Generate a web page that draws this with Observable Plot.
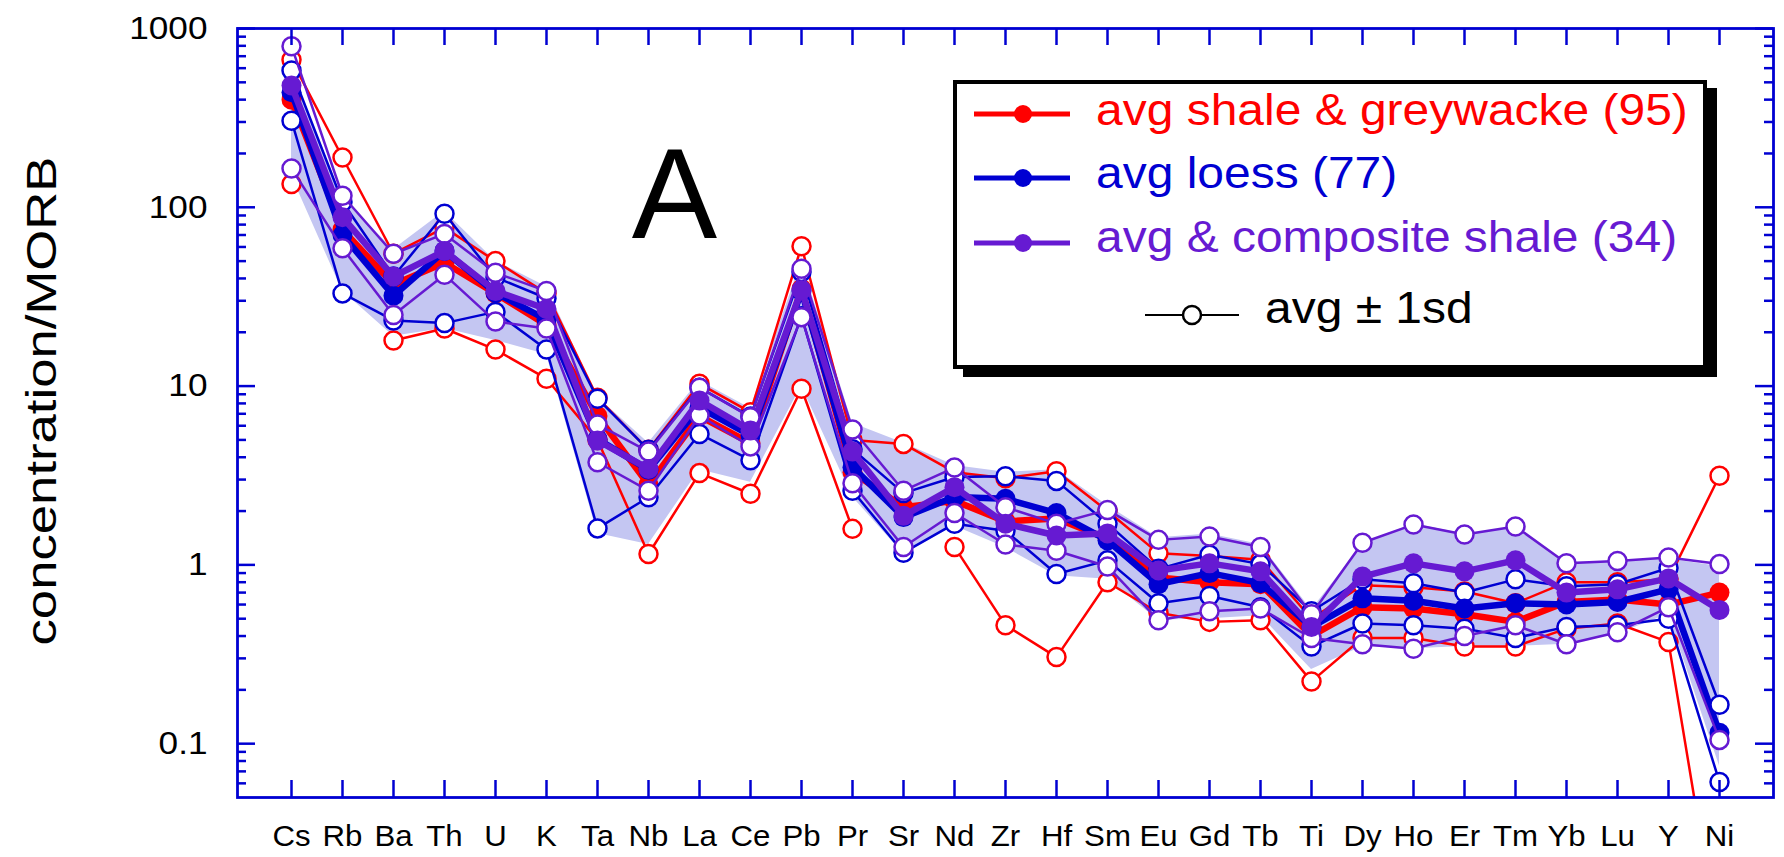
<!DOCTYPE html>
<html>
<head>
<meta charset="utf-8">
<script src="https://cdn.jsdelivr.net/npm/d3@7"></script>
<script src="https://cdn.jsdelivr.net/npm/@observablehq/plot@0.6"></script>
<style>
  html,body{margin:0;padding:0;background:#fff;}
  #wrap{position:relative;width:1784px;height:857px;overflow:hidden;background:#fff;}
  #legend{position:absolute;left:953px;top:80px;width:754px;height:289px;box-sizing:border-box;border:4px solid #000;background:#fff;box-shadow:10px 8px 0 0 #000;}
  #legend svg{display:block;}
</style>
</head>
<body>
<div id="wrap"><div id="chart"></div><div id="legend"></div></div>
<script>
// ---- data (values normalised to MORB) ----
const elements = ["Cs","Rb","Ba","Th","U","K","Ta","Nb","La","Ce","Pb","Pr","Sr","Nd","Zr","Hf","Sm","Eu","Gd","Tb","Ti","Dy","Ho","Er","Tm","Yb","Lu","Y","Ni"];

// avg shale & greywacke (95)
const shaleAvg = [400, 75, 37, 49, 33, 22, 6.8, 2.8, 6.8, 4.8, 35, 3.3, 2.1, 2.28, 1.75, 1.82, 1.4, 0.85, 0.8, 0.78, 0.4, 0.58, 0.57, 0.53, 0.48, 0.62, 0.64, 0.6, 0.7];
const shaleHi  = [668, 190, 55, 77, 50, 33, 8.6, 4.4, 10.3, 7.15, 60.6, 5.0, 4.75, 3.3, 3.05, 3.34, 2.0, 1.16, 1.12, 1.07, 0.5, 0.77, 0.75, 0.71, 0.61, 0.8, 0.8, 0.83, 3.15];
const shaleLo  = [135, NaN, 18, 21, 16, 11, 5.0, 1.15, 3.26, 2.5, 9.66, 1.59, NaN, 1.26, 0.46, 0.305, 0.8, 0.54, 0.48, 0.49, 0.223, 0.39, 0.39, 0.35, 0.35, 0.44, 0.47, 0.37, 0.007];

// avg loess (77)
const loessAvg = [440, 70, 32, 57, 33.3, 23.5, 5.05, 3.4, 7.6, 5.3, 34, 3.52, 1.85, 2.4, 2.34, 1.95, 1.37, 0.78, 0.9, 0.79, 0.45, 0.65, 0.63, 0.57, 0.61, 0.6, 0.62, 0.73, 0.115];
const loessHi  = [582, 107, 41, 92, 40.6, 31, 8.5, 4.4, 9.8, 6.75, 43.4, 4.44, 2.52, 3.1, 3.13, 2.95, 1.7, 0.95, 1.14, 1.01, 0.55, 0.83, 0.79, 0.7, 0.83, 0.76, 0.78, 0.96, 0.165];
const loessLo  = [305, 33, 23.3, 22.5, 26, 16, 1.6, 2.39, 5.4, 3.85, 24.6, 2.6, 1.17, 1.7, 1.55, 0.89, 1.06, 0.61, 0.67, 0.58, 0.35, 0.47, 0.46, 0.44, 0.39, 0.45, 0.46, 0.5, 0.061];

// avg & composite shale (34)
const compAvg = [480, 88, 41, 57, 34, 27, 4.97, 3.44, 8.3, 5.65, 34.5, 4.3, 1.88, 2.72, 1.7, 1.46, 1.5, 0.93, 1.02, 0.92, 0.45, 0.86, 1.02, 0.92, 1.06, 0.70, 0.73, 0.84, 0.56];
const compHi  = [796, 116, 55, 71, 43, 34, 6.1, 4.3, 9.8, 6.7, 45.3, 5.72, 2.6, 3.5, 2.1, 1.7, 2.03, 1.38, 1.44, 1.26, 0.53, 1.33, 1.68, 1.48, 1.64, 1.02, 1.05, 1.1, 1.01];
const compLo  = [165, 59, 25, 42, 23, 21, 3.75, 2.6, 6.85, 4.6, 24.3, 2.86, 1.26, 1.95, 1.3, 1.2, 0.98, 0.49, 0.55, 0.57, 0.39, 0.36, 0.34, 0.40, 0.46, 0.36, 0.42, 0.58, 0.105];

// shaded envelope
const bandHi = [590, 112, 58, 95, 50, 36, 8.7, 4.8, 10.7, 7.5, 50, 6.2, 4.8, 3.6, 3.3, 3.4, 2.15, 1.42, 1.49, 1.3, 0.56, 1.3, 1.7, 1.49, 1.62, 1.03, 1.05, 1.08, 0.98];
const bandLo = [150, 34, 19, 21, 18, 15, 1.5, 1.3, 3.4, 2.9, 10, 2.4, 1.15, 1.65, 1.25, 0.87, 0.83, 0.49, 0.5, 0.52, 0.26, 0.35, 0.34, 0.35, 0.35, 0.36, 0.41, 0.53, 0.075];

const yTicks = [0.1, 1, 10, 100, 1000];
const seriesNames = ["avg shale & greywacke (95)", "avg loess (77)", "avg & composite shale (34)"];
const sdLabel = "avg \u00b1 1sd";
const yTitle = "concentration/MORB";
const panelLabel = "A";

// ---- styling ----
const FONT = "'Liberation Sans', Arial, Helvetica, sans-serif";
const RED = "#ff0000", BLUE = "#0000d2", PURPLE = "#661ad2", BAND = "#c4c6f2", AXIS = "#0000d2";

const series = [
  {name: seriesNames[0], color: RED, avg: shaleAvg, hi: shaleHi, lo: shaleLo},
  {name: seriesNames[1], color: BLUE, avg: loessAvg, hi: loessHi, lo: loessLo},
  {name: seriesNames[2], color: PURPLE, avg: compAvg, hi: compHi, lo: compLo}
];
const rowsOf = s => elements.map((el, i) => ({el, avg: s.avg[i], hi: s.hi[i], lo: s.lo[i]}));
const bandRows = elements.map((el, i) => ({el, lo: bandLo[i], hi: bandHi[i]}));

const W = 1784, H = 857, mL = 237, mR = 11, mT = 28, mB = 60;
const fw = W - mL - mR, fh = H - mT - mB;
const minorTicks = [];
for (const d of [0.01, 0.1, 1, 10, 100]) for (let k = 2; k <= 9; k++) {
  const v = +(k * d).toPrecision(3);
  if (v > 0.05 && v < 1000) minorTicks.push(v);
}

const marks = [Plot.areaY(bandRows, {x: "el", y1: "lo", y2: "hi", fill: BAND, clip: true})];
for (const s of series) {
  const rows = rowsOf(s);
  marks.push(
    Plot.line(rows, {x: "el", y: "hi", stroke: s.color, strokeWidth: 2.5, clip: true}),
    Plot.line(rows, {x: "el", y: "lo", stroke: s.color, strokeWidth: 2.5, clip: true}),
    Plot.line(rows, {x: "el", y: "avg", stroke: s.color, strokeWidth: 6.5, clip: true}),
    Plot.dot(rows, {x: "el", y: "hi", r: 9, fill: "white", stroke: s.color, strokeWidth: 2.5, clip: true}),
    Plot.dot(rows, {x: "el", y: "lo", r: 9, fill: "white", stroke: s.color, strokeWidth: 2.5, clip: true}),
    Plot.dot(rows, {x: "el", y: "avg", r: 10, fill: s.color, clip: true})
  );
}
marks.push(
  Plot.tickX(elements, {x: d => d, stroke: AXIS, strokeWidth: 2.5, insetTop: fh - 17}),
  Plot.tickX(elements, {x: d => d, stroke: AXIS, strokeWidth: 2.5, insetBottom: fh - 17}),
  Plot.tickY(yTicks, {y: d => d, stroke: AXIS, strokeWidth: 2.5, insetRight: fw - 18}),
  Plot.tickY(minorTicks, {y: d => d, stroke: AXIS, strokeWidth: 2.5, insetRight: fw - 9}),
  Plot.tickY(yTicks, {y: d => d, stroke: AXIS, strokeWidth: 2.5, insetLeft: fw - 18}),
  Plot.tickY(minorTicks, {y: d => d, stroke: AXIS, strokeWidth: 2.5, insetLeft: fw - 9}),
  Plot.frame({stroke: AXIS, strokeWidth: 2.8}),
  Plot.text(elements, {x: d => d, text: d => d, frameAnchor: "bottom", textAnchor: "middle", lineAnchor: "middle", dy: 39, fontSize: 30, fill: "black"}),
  Plot.text(yTicks, {y: d => d, text: d => String(d), frameAnchor: "left", textAnchor: "end", lineAnchor: "middle", dx: -30, fontSize: 32, fill: "black"}),
  Plot.text([yTitle], {frameAnchor: "left", textAnchor: "middle", lineAnchor: "middle", rotate: -90, dx: -195, dy: -12, fontSize: 42, fill: "black"}),
  Plot.text([panelLabel], {frameAnchor: "top-left", textAnchor: "middle", lineAnchor: "middle", dx: 437, dy: 169, fontSize: 128, fill: "black"})
);

const chart = Plot.plot({
  width: W, height: H,
  marginLeft: mL, marginRight: mR, marginTop: mT, marginBottom: mB,
  style: {fontFamily: FONT, background: "white"},
  x: {type: "point", domain: elements, padding: 1, axis: null},
  y: {type: "log", domain: [0.05, 1000], axis: null},
  marks
});
document.getElementById("chart").append(chart);

// stretch text horizontally to match the reference lettering
const yTickStr = yTicks.map(String);
chart.querySelectorAll("text").forEach(t => {
  const s = t.textContent;
  const w = t.getComputedTextLength();
  let L = null;
  if (s === yTitle) L = 489;
  else if (yTickStr.includes(s)) L = w * 1.1;
  else if (elements.includes(s)) L = w * 1.04;
  if (L) { t.setAttribute("textLength", L); t.setAttribute("lengthAdjust", "spacingAndGlyphs"); }
});

// ---- legend ----
const lg = d3.select("#legend").append("svg").attr("width", 746).attr("height", 281).style("font-family", FONT);
const rowY = [30, 94, 159], baseY = [41, 104, 168];
series.forEach((s, i) => {
  lg.append("line").attr("x1", 17).attr("x2", 113).attr("y1", rowY[i]).attr("y2", rowY[i])
    .attr("stroke", s.color).attr("stroke-width", 5);
  lg.append("circle").attr("cx", 66).attr("cy", rowY[i]).attr("r", 9).attr("fill", s.color);
  lg.append("text").attr("x", 139).attr("y", baseY[i]).attr("fill", s.color).attr("font-size", 44).text(s.name);
});
lg.append("line").attr("x1", 188).attr("x2", 282).attr("y1", 231).attr("y2", 231).attr("stroke", "#000").attr("stroke-width", 2);
lg.append("circle").attr("cx", 235).attr("cy", 231).attr("r", 9).attr("fill", "white").attr("stroke", "#000").attr("stroke-width", 2.5);
lg.append("text").attr("x", 308).attr("y", 239).attr("fill", "#000").attr("font-size", 44).text(sdLabel);
lg.selectAll("text").each(function() {
  const w = this.getComputedTextLength();
  this.setAttribute("textLength", w * 1.09);
  this.setAttribute("lengthAdjust", "spacingAndGlyphs");
});
</script>
</body>
</html>
